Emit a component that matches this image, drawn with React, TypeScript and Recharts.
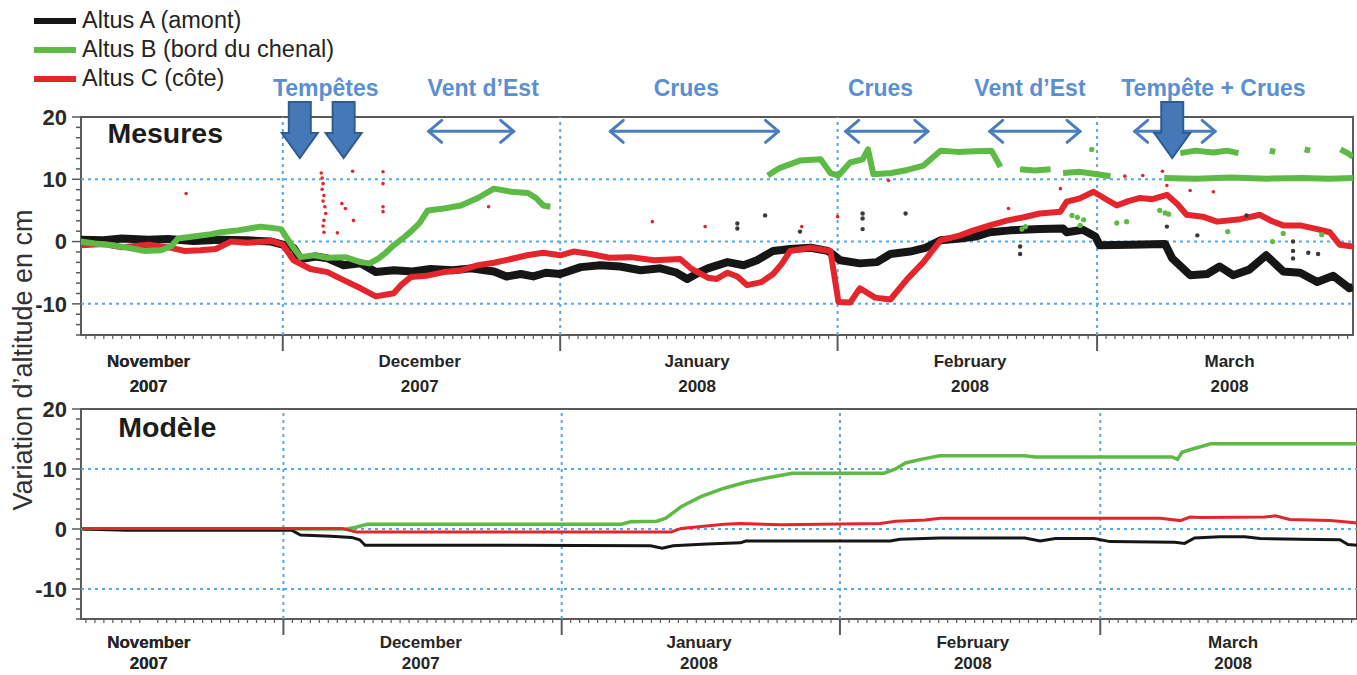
import React from "react";
import {
  ComposedChart,
  Line,
  Scatter,
  XAxis,
  YAxis,
  ReferenceLine,
  ReferenceArea,
  ReferenceDot,
} from "recharts";

/*
 * Altus altimeters, Nov 2007 - Mar 2008: measured vs modelled bed level change.
 * x = day index from 1 Nov 2007 (1 Dec = 30, 1 Jan = 61, 1 Feb = 92, 1 Mar = 121).
 */

type P = [number, number | null];

// ---- axes / labels
const X_DOMAIN: [number, number] = [7.45, 149.6];
const Y_DOMAIN: [number, number] = [-15, 20];
const monthStarts = [30, 61, 92, 121];
const monthMid = [15, 45.3, 76.3, 106.8, 135.8];
const monthNames = ["November", "December", "January", "February", "March"];
const monthYears = ["2007", "2007", "2008", "2008", "2008"];
const gridValues = [-10, 0, 10];

// ---- legend
const seriesNames = ["Altus A (amont)", "Altus B (bord du chenal)", "Altus C (côte)"];
const seriesColors = ["#161616", "#5dba45", "#e4252b"];

// ---- events (top panel)
const eventLabels = ["Tempêtes", "Vent d’Est", "Crues", "Crues", "Vent d’Est", "Tempête + Crues"];
const eventDays = [34.8, 52.4, 75.1, 96.8, 113.5, 134];
const eventSpans: [number, number][] = [
  [46.3, 55.8],
  [66.6, 85.4],
  [92.9, 102.1],
  [109, 119.1],
  [125.2, 134.2],
];
const stormDays = [31.9, 36.8, 129.4];

// ---- Mesures
const mesA: P[] = [
  [7.4, 0.3], [10, 0.2], [12, 0.5], [15, 0.3], [17.2, 0.4], [20, 0.1], [23.1, 0.3], [26, 0.2],
  [28.7, 0.0], [30, -0.5], [31.2, -1.0], [32, -2.8], [33.7, -2.4], [35, -2.7], [36.8, -3.8],
  [38.7, -3.5], [40.4, -4.9], [42.4, -4.6], [44.5, -4.8], [46.5, -4.4], [49, -4.6], [51, -4.3],
  [53.6, -4.8], [55, -5.6], [56.6, -5.2], [58, -5.6], [59.4, -5.0], [61, -5.2], [63.3, -4.1],
  [65.5, -3.8], [67.7, -4.0], [70, -4.6], [72.2, -4.3], [74, -5.0], [75.2, -6.0], [76.2, -5.2],
  [77.5, -4.3], [79.7, -3.3], [81.5, -3.8], [83, -3.0], [84.8, -1.5], [86.7, -1.2], [89, -1.0],
  [90.9, -1.5], [91.6, -2.2], [92.3, -3.0], [94.5, -3.5], [96.4, -3.3], [97.9, -2.0],
  [100.1, -1.6], [101.8, -1.0], [103.5, 0.2], [105.7, 0.5], [107.4, 0.8], [109, 1.5],
  [111.3, 1.8], [114.6, 2.0], [117.2, 2.1], [117.6, 1.5], [119.4, 1.9], [120.8, 0.8],
  [121.3, -0.6], [124.7, -0.5], [128.6, -0.4], [129.4, -2.7], [131.4, -5.4], [133.3, -5.2],
  [134.7, -4.0], [136.2, -5.4], [138, -4.5], [139.9, -2.2], [141.8, -4.8], [143.7, -5.0],
  [145.6, -6.5], [147.4, -5.5], [149.2, -7.5], [149.6, -7.3],
];
const mesB: P[] = [
  [7.4, 0.0], [9, -0.3], [11, -0.6], [12.7, -1.0], [14.5, -1.5], [16.4, -1.4], [17.5, -0.8],
  [18.3, 0.5], [20, 0.8], [22, 1.2], [23.1, 1.5], [25, 1.8], [27.5, 2.4], [28.8, 2.2], [29.8, 2.0],
  [30.5, 0.5], [31.2, -1.0], [32, -2.5], [33.5, -2.2], [35, -2.6], [37, -2.5], [38.7, -3.3],
  [39.7, -3.5], [40.6, -2.8], [41.5, -1.8], [42.4, -0.6], [43.4, 0.5], [44.3, 1.6], [45.3, 3.0],
  [46.2, 5.0], [48, 5.3], [49.9, 5.8], [51.8, 7.0], [53.6, 8.5], [55.5, 8.0], [57.4, 7.8],
  [58.3, 7.0], [59.1, 5.8], [59.9, 5.6], [60.5, null],
  [84.2, 10.6], [85.5, 11.8], [87.8, 13.0], [90.1, 13.2], [91.2, 11.0], [92.1, 10.6],
  [93.4, 12.7], [94.8, 13.2], [95.4, 14.8], [96.0, 10.8], [98, 11.0], [99.8, 11.5],
  [101.6, 12.2], [103.5, 14.6], [105.5, 14.4], [107.2, 14.5], [109.2, 14.6], [110.2, 12.0],
  [111, null], [112.4, 11.6], [114, 11.4], [115.8, 11.6], [116.5, null],
  [117.2, 11.0], [119, 11.2], [121, 10.8], [122.5, 10.5], [125, null],
  [128.5, 10.2], [132, 10.1], [136, 10.3], [140, 10.1], [144, 10.2], [147, 10.1], [149.6, 10.2],
];
const mesBHaut: P[] = [
  [130.3, 14.2], [132, 14.6], [134, 14.3], [135.5, 14.6], [136.8, 14.2], [137.5, null],
  [140.3, 14.6], [140.9, 14.4], [141.6, null], [144.2, 14.8], [144.8, 14.6], [145.5, null],
  [148.2, 14.8], [149, 14.2], [149.6, 13.6],
];
const mesC: P[] = [
  [7.4, -0.6], [10, -0.4], [12, -0.9], [15, -0.5], [17.5, -1.0], [19, -1.5], [20.8, -1.4],
  [22.5, -1.2], [24.2, 0.0], [26, -0.2], [28.7, 0.1], [30, -0.5], [31.2, -3.0], [33.1, -4.4],
  [35, -4.9], [36.8, -6.2], [38.7, -7.5], [40.4, -8.8], [42.4, -8.3], [43.2, -7.0], [44.3, -5.7],
  [46, -5.5], [48, -4.9], [50, -4.6], [51.8, -3.8], [53.6, -3.4], [55.5, -2.8], [57.3, -2.2],
  [59.1, -1.8], [61, -2.2], [62.5, -1.6], [64.4, -2.0], [66.5, -2.6], [68.9, -2.5], [71.5, -3.0],
  [74.4, -2.8], [75.6, -4.3], [77.5, -5.8], [78.5, -6.0], [79.7, -5.0], [80.8, -5.6], [81.9, -7.0],
  [83.5, -6.5], [84.8, -5.2], [85.8, -3.5], [86.7, -1.5], [89, -1.0], [91.2, -1.5], [92.1, -9.7],
  [93.4, -9.8], [94.5, -7.5], [96.2, -9.0], [97.9, -9.3], [99.8, -6.0], [101.6, -3.3],
  [103.5, 0.2], [105.7, 1.0], [107.2, 1.8], [109, 2.6], [111, 3.4], [112.8, 3.9], [114.6, 4.5],
  [116.9, 4.8], [117.6, 6.4], [119, 6.9], [120.6, 8.0], [122, 6.8], [123.2, 5.8], [124.5, 6.5],
  [125.8, 7.0], [127.2, 6.8], [128.8, 7.5], [130, 6.0], [131, 4.3], [132.8, 4.0], [134.4, 3.2],
  [137, 3.6], [139.2, 4.3], [140.5, 3.3], [141.8, 2.6], [143.7, 2.6], [145.6, 2.0], [147, 1.5],
  [148.1, -0.5], [149.6, -0.8],
];
// isolated readings
const horsA: P[] = [
  [80.8, 2.9], [80.8, 2.1], [83.9, 4.2], [87.8, 1.6], [94.8, 4.5], [94.8, 3.7], [94.8, 2.0],
  [99.6, 4.5], [112.4, -0.8], [112.4, -2.0], [128.8, 2.4], [132.2, 1.0], [137.7, 4.2],
  [142.9, 0.0], [142.9, -1.5], [142.9, -2.7], [144.6, -1.8], [145.7, -2.0],
];
const horsB: P[] = [
  [112.6, 2.0], [113, 2.4], [118.2, 4.2], [118.8, 3.9], [119.5, 3.5], [119.1, 2.6], [120.4, 14.8],
  [123.2, 3.0], [124.3, 3.2], [128, 5.0], [128.6, 4.6], [129, 4.4], [135.6, 1.6], [140.6, 0.0],
  [141.8, 1.3], [146.1, 1.1],
];
const horsC: P[] = [
  [19.2, 7.7], [34.3, 11], [34.4, 10.2], [34.5, 9.3], [34.4, 8.4], [34.6, 7.4], [34.5, 6.5],
  [34.7, 5.6], [34.8, 4.5], [34.6, 3.4], [34.5, 2.5], [34.6, 1.5], [36.1, 1.4], [36.6, 6.1],
  [37.0, 5.3], [37.8, 11.3], [37.9, 3.4], [41.2, 11.2], [41.2, 9.3], [41.2, 5.6], [41.2, 4.8],
  [53, 5.6], [71.3, 3.2], [77.2, 2.4], [88, 2.4], [92, 4.0], [97.7, 9.8], [111.1, 5.3],
  [116.9, 8.5], [124.1, 10.5], [126.1, 10.6], [128.3, 11.3], [128.8, 9.0], [131.4, 8.2], [134, 8.0],
];

// ---- Modèle
const modA: P[] = [
  [7.6, 0], [12.5, -0.2], [30.9, -0.2], [31.9, -1.0], [35.3, -1.2], [37.6, -1.4], [38.5, -1.8],
  [39.1, -2.7], [54.2, -2.7], [70.9, -2.8], [72.2, -3.2], [73.4, -2.8], [77.2, -2.5], [80.9, -2.3],
  [81.5, -2.0], [97.6, -2.0], [98.7, -1.7], [103.1, -1.5], [112.6, -1.5], [114.3, -2.0],
  [116, -1.6], [120.3, -1.6], [122.1, -2.1], [129.3, -2.2], [130.4, -2.4], [131.5, -1.5],
  [134.3, -1.3], [137.1, -1.3], [138.8, -1.6], [143.2, -1.7], [147.7, -1.8], [148.6, -2.6],
  [149.6, -2.7],
];
const modB: P[] = [
  [7.6, 0], [37, 0], [38.1, 0.3], [39.3, 0.8], [67.6, 0.8], [68.7, 1.2], [71.6, 1.3], [72.6, 1.8],
  [74.3, 3.7], [76.5, 5.4], [79.1, 6.8], [81.5, 7.8], [83.8, 8.5], [86.7, 9.3], [96.9, 9.3],
  [98.2, 10.0], [99.3, 11.0], [101, 11.6], [103.1, 12.2], [112.6, 12.2], [113.8, 12.0],
  [129, 12.0], [129.6, 11.6], [130.1, 12.8], [131, 13.2], [133.3, 14.2], [149.6, 14.2],
];
const modC: P[] = [
  [7.6, 0.1], [36.5, 0.1], [38.1, -0.5], [67.6, -0.5], [73.2, -0.5], [74.3, 0.1], [79.1, 0.8],
  [80.9, 0.9], [85.4, 0.7], [96.5, 0.9], [98.2, 1.3], [101.5, 1.5], [103.2, 1.8], [127.7, 1.8],
  [129.9, 1.4], [131, 2.0], [132.1, 1.9], [139.3, 2.0], [140.5, 2.2], [142.1, 1.6], [146.6, 1.4],
  [148.2, 1.2], [149.6, 1.0],
];

const pts = (s: P[]) => s.map(([d, v]) => ({ d, v }));

const FONT = "'Liberation Sans', Arial, sans-serif";
const GRID = "#58a8e4";
const FRAME = "#5a5a5a";
const EVENT_TEXT = "#5b8fd3";
const EVENT_LINE = "#4a7dbd";

const dayTicks = Array.from({ length: 142 }, (_, i) => 8 + i);
const xTicks = [...dayTicks, ...monthMid];
const yTicks = Array.from({ length: 22 }, (_, i) => Y_DOMAIN[0] + (i * 35) / 21);

function MonthTick(props: any) {
  const { x, y, payload, nameDy, yearDy } = props;
  const idx = monthMid.indexOf(payload.value);
  if (idx >= 0) {
    return (
      <g fontFamily={FONT} fontWeight="bold" fontSize={17} fill="#262626" textAnchor="middle">
        <text x={x} y={y + nameDy}>{monthNames[idx]}</text>
        <text x={x} y={y + yearDy}>{monthYears[idx]}</text>
      </g>
    );
  }
  const major = monthStarts.includes(payload.value);
  return (
    <line x1={x} x2={x} y1={y} y2={y + (major ? 16 : 4)} stroke={FRAME} strokeWidth={major ? 2 : 1.2} />
  );
}

function ValueTick(props: any) {
  const { x, y, payload } = props;
  const v = payload.value as number;
  const major = Math.abs(v / 10 - Math.round(v / 10)) < 1e-6;
  return (
    <g>
      <line x1={x - (major ? 9 : 5)} x2={x} y1={y} y2={y} stroke={FRAME} strokeWidth={1.5} />
      {major && (
        <text x={x - 14} y={y} dy="0.36em" textAnchor="end" fontFamily={FONT} fontWeight="bold" fontSize={22} fill="#2b2b2b">
          {Math.round(v)}
        </text>
      )}
    </g>
  );
}

function DoubleArrow(p: any) {
  const { x1, y1, x2, y2 } = p;
  const w = 13;
  const h = 11;
  return (
    <g stroke={EVENT_LINE} strokeWidth={3} fill="none" strokeLinecap="round" strokeLinejoin="round">
      <line x1={x1} y1={y1} x2={x2} y2={y2} />
      <polyline points={`${x1 + w},${y1 - h} ${x1},${y1} ${x1 + w},${y1 + h}`} />
      <polyline points={`${x2 - w},${y2 - h} ${x2},${y2} ${x2 - w},${y2 + h}`} />
    </g>
  );
}

function StormArrow(p: any) {
  const { cx, cy } = p;
  const sw = 11, hw = 18, hh = 25, len = 56;
  const pointsStr = [
    [cx - sw, cy - len], [cx + sw, cy - len], [cx + sw, cy - hh], [cx + hw, cy - hh],
    [cx, cy], [cx - hw, cy - hh], [cx - sw, cy - hh],
  ].map((q) => q.join(",")).join(" ");
  return <polygon points={pointsStr} fill="#4578b6" stroke="#2e5b92" strokeWidth={2} />;
}

const textAt = (label: string, anchor: "start" | "middle", size: number, color: string) =>
  (p: any) => (
    <text x={p.cx} y={p.cy} textAnchor={anchor} dominantBaseline={anchor === "middle" ? "central" : "alphabetic"}
      fontFamily={FONT} fontWeight="bold" fontSize={size} fill={color}>
      {label}
    </text>
  );

const dotShape = (color: string, r: number) => (p: any) =>
  <circle cx={p.cx} cy={p.cy} r={r} fill={color} />;

function Panel({
  children,
  top,
  height,
  marginTop,
  axisHeight,
  right,
  title,
  titleAt,
  nameDy,
  yearDy,
}: {
  children: React.ReactNode;
  top: number;
  height: number;
  marginTop: number;
  axisHeight: number;
  right: number;
  title: string;
  titleAt: [number, number];
  nameDy: number;
  yearDy: number;
}) {
  return (
    <div style={{ position: "absolute", left: 0, top }}>
      <ComposedChart width={1357} height={height} margin={{ top: marginTop, right, bottom: 0, left: 0 }}>
        <XAxis
          dataKey="d"
          type="number"
          domain={X_DOMAIN}
          allowDataOverflow
          ticks={xTicks}
          interval={0}
          tick={<MonthTick nameDy={nameDy} yearDy={yearDy} />}
          tickSize={0}
          tickMargin={0}
          tickLine={false}
          axisLine={false}
          height={axisHeight}
        />
        <YAxis
          dataKey="v"
          type="number"
          domain={Y_DOMAIN}
          allowDataOverflow
          ticks={yTicks}
          interval={0}
          tick={<ValueTick />}
          tickSize={0}
          tickMargin={0}
          tickLine={false}
          axisLine={false}
          width={81}
        />
        {gridValues.map((g) => (
          <ReferenceLine key={`h${g}`} y={g} stroke={GRID} strokeWidth={2} strokeDasharray="3 4" />
        ))}
        {monthStarts.map((m) => (
          <ReferenceLine key={`v${m}`} x={m} stroke={GRID} strokeWidth={2} strokeDasharray="3 4" />
        ))}
        {children}
        <ReferenceDot x={titleAt[0]} y={titleAt[1]} r={0} ifOverflow="visible" shape={textAt(title, "start", 28.5, "#1c1c1c")} />
        <ReferenceArea
          x1={X_DOMAIN[0]}
          x2={X_DOMAIN[1]}
          y1={Y_DOMAIN[0]}
          y2={Y_DOMAIN[1]}
          fill="none"
          fillOpacity={0}
          stroke={FRAME}
          strokeWidth={2}
          ifOverflow="visible"
        />
      </ComposedChart>
    </div>
  );
}

export default function App() {
  return (
    <div
      style={{
        position: "absolute",
        left: 0,
        top: 0,
        width: 1357,
        height: 675,
        background: "#fff",
        overflow: "hidden",
        fontFamily: FONT,
      }}
    >
      {/* legend */}
      <div style={{ position: "absolute", left: 34, top: 6, zIndex: 2 }}>
        {seriesNames.map((n, i) => (
          <div key={n} style={{ display: "flex", alignItems: "center", height: 29, fontSize: 23.5, color: "#242424" }}>
            <span style={{ display: "inline-block", width: 42, height: 6, background: seriesColors[i], marginRight: 6 }} />
            {n}
          </div>
        ))}
      </div>

      {/* shared y title */}
      <svg width={60} height={675} style={{ position: "absolute", left: 0, top: 0, zIndex: 2 }}>
        <text transform="translate(32,360) rotate(-90)" textAnchor="middle" fontFamily={FONT} fontSize={27} fill="#333">
          Variation d’altitude en cm
        </text>
      </svg>

      {/* Mesures */}
      <Panel top={0} height={400} marginTop={117} axisHeight={65} right={4} title="Mesures" titleAt={[10.4, 15.8]} nameDy={32} yearDy={57}>
        <Line data={pts(mesA)} dataKey="v" stroke={seriesColors[0]} strokeWidth={8} dot={false} activeDot={false} isAnimationActive={false} strokeLinejoin="round" />
        <Scatter data={pts(horsA)} dataKey="v" shape={dotShape("#3a3a3a", 2.2)} isAnimationActive={false} />
        <Line data={pts(mesC)} dataKey="v" stroke={seriesColors[2]} strokeWidth={6} dot={false} activeDot={false} isAnimationActive={false} strokeLinejoin="round" />
        <Scatter data={pts(horsC)} dataKey="v" shape={dotShape(seriesColors[2], 1.8)} isAnimationActive={false} />
        <Line data={pts(mesB)} dataKey="v" stroke={seriesColors[1]} strokeWidth={6} dot={false} activeDot={false} isAnimationActive={false} strokeLinejoin="round" />
        <Line data={pts(mesBHaut)} dataKey="v" stroke={seriesColors[1]} strokeWidth={6} dot={false} activeDot={false} isAnimationActive={false} strokeLinejoin="round" />
        <Scatter data={pts(horsB)} dataKey="v" shape={dotShape(seriesColors[1], 2.6)} isAnimationActive={false} />
        {eventSpans.map(([a, b], i) => (
          <ReferenceLine
            key={`span${i}`}
            segment={[{ x: a, y: 17.7 }, { x: b, y: 17.7 }]}
            ifOverflow="visible"
            shape={(p: any) => <DoubleArrow {...p} />}
          />
        ))}
        {stormDays.map((d) => (
          <ReferenceDot key={`storm${d}`} x={d} y={13.4} r={0} ifOverflow="visible" shape={(p: any) => <StormArrow {...p} />} />
        ))}
        {eventLabels.map((l, i) => (
          <ReferenceDot key={`ev${i}`} x={eventDays[i]} y={24.7} r={0} ifOverflow="visible" shape={textAt(l, "middle", 23, EVENT_TEXT)} />
        ))}
      </Panel>

      {/* Modèle */}
      <Panel top={395} height={280} marginTop={14} axisHeight={56} right={0} title="Modèle" titleAt={[11.6, 15.3]} nameDy={29} yearDy={50}>
        <Line data={pts(modB)} dataKey="v" stroke={seriesColors[1]} strokeWidth={3.5} dot={false} activeDot={false} isAnimationActive={false} />
        <Line data={pts(modA)} dataKey="v" stroke={seriesColors[0]} strokeWidth={3} dot={false} activeDot={false} isAnimationActive={false} />
        <Line data={pts(modC)} dataKey="v" stroke={seriesColors[2]} strokeWidth={3} dot={false} activeDot={false} isAnimationActive={false} />
      </Panel>
    </div>
  );
}
